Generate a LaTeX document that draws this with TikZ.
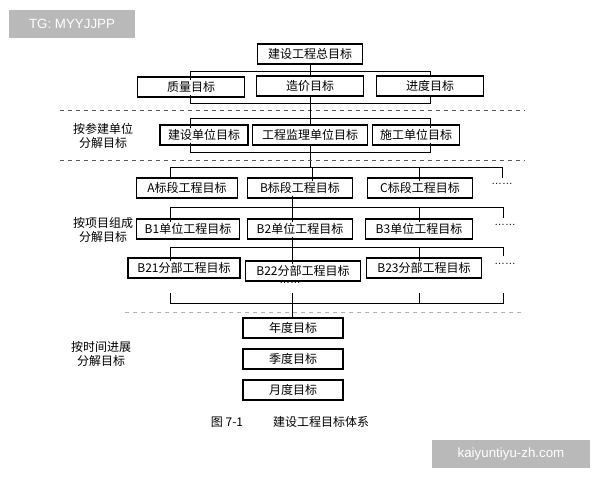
\documentclass[tikz,border=0pt]{standalone}
\usepackage{fontspec}
\setmainfont{Liberation Sans}
\newfontfamily\cjk{Noto Sans CJK SC}
\begin{document}
\begin{tikzpicture}[x=0.75pt,y=-0.75pt,
 bx/.style={draw,line width=0.8pt,minimum height=15pt,inner sep=1pt,font=\cjk\fontsize{9}{10}\selectfont},
 lb/.style={font=\cjk\fontsize{9}{11}\selectfont,align=center},
 ln/.style={line width=0.7pt},
 dsh/.style={dashed,line width=0.7pt,gray!70!black},
 dots/.style={font=\fontsize{8}{8}\selectfont}]
\useasboundingbox (0,0) rectangle (600,480);
% watermarks
\node[fill=gray!55,text=white,minimum width=94pt,minimum height=21pt,font=\fontsize{10}{10}\selectfont] (wm1) at (72,24) {TG: MYYJJPP};
\node[fill=gray!55,text=white,minimum width=118pt,minimum height=21pt,font=\fontsize{10}{10}\selectfont] (wm2) at (511,454) {kaiyuntiyu-zh.com};
% row 1/2
\node[bx,minimum width=79pt] (top) at (310,54) {建设工程总目标};
\node[bx,minimum width=80pt] (q) at (191,87) {质量目标};
\node[bx,minimum width=80pt] (c) at (310,86) {造价目标};
\node[bx,minimum width=80pt] (p) at (430,86) {进度目标};
\coordinate (t1) at (310,71);
\draw[ln] (top) -- (t1); \draw[ln] (190,71) -- (430,71);
\draw[ln] (190,71) -- (190,79.5); \draw[ln] (310,71)--(c.north); \draw[ln] (430,71)--(p.north);
\draw[ln] (190,94.5)--(190,103)--(430,103)--(p.south); \draw[ln] (c.south)--(310,103);
\draw[dsh] (60,110)--(525,110);
% row 3
\node[bx,minimum width=66pt] (u1) at (204,135) {建设单位目标};
\node[bx,minimum width=86pt] (u2) at (310,135) {工程监理单位目标};
\node[bx,minimum width=65pt] (u3) at (416,135) {施工单位目标};
\node[lb] (l1) at (103,136) {按参建单位\\分解目标};
\draw[ln] (310,103)--(310,118); \draw[ln] (190,118)--(430,118);
\draw[ln] (190,118)--(190,127.5); \draw[ln] (u2.north)--(310,118); \draw[ln] (430,118)--(430,127.5);
\draw[ln] (190,142.5)--(190,152)--(430,152)--(430,142.5); \draw[ln] (u2.south)--(310,167);
\draw[dsh] (60,160)--(525,160);
% row 4
\node[bx,minimum width=76pt] (a) at (187,188) {A标段工程目标};
\node[bx,minimum width=79pt] (b) at (300,188) {B标段工程目标};
\node[bx,minimum width=79pt] (cc) at (420,188) {C标段工程目标};
\node[dots] (d4) at (502,184) {……};
\draw[ln] (170,167)--(502,167)--(502,178);
\draw[ln] (170,167)--(a.north-|170,0); \draw[ln] (312,167)--(312,180.5); \draw[ln] (419,167)--(419,180.5);
% row 5
\node[bx,minimum width=77pt] (b1) at (188,229) {B1单位工程目标};
\node[bx,minimum width=79pt] (b2) at (300,229) {B2单位工程目标};
\node[bx,minimum width=80pt] (b3) at (419,229) {B3单位工程目标};
\node[dots] (d5) at (505,225) {……};
\node[lb] (l2) at (103,230) {按项目组成\\分解目标};
\draw[ln] (292,195.5)--(292,207); \draw[ln] (170,207)--(503,207)--(503,218);
\draw[ln] (170,207)--(170,221.5); \draw[ln] (292,207)--(292,221.5); \draw[ln] (419,207)--(419,221.5);
% row 6
\node[bx,minimum width=84pt] (b21) at (184,268) {B21分部工程目标};
\node[bx,minimum width=86pt] (b22) at (303,271) {B22分部工程目标};
\node[bx,minimum width=86pt] (b23) at (424,268) {B23分部工程目标};
\node[dots] (d6) at (505,264) {……};
\node[dots] (d7) at (290,283) {……};
\draw[ln] (292,236.5)--(292,247); \draw[ln] (170,247)--(503,247)--(503,256);
\draw[ln] (170,247)--(170,260.5); \draw[ln] (292,247)--(292,263.5); \draw[ln] (419,247)--(419,260.5);
\draw[ln] (170,293)--(170,303)--(503,303)--(503,293);
\draw[ln] (292,293)--(292,318); \draw[ln] (419,293)--(419,303);
\draw[dsh,gray!60] (125,312)--(525,312);
% row 7
\node[bx,minimum width=75pt] (y) at (293,328) {年度目标};
\node[bx,minimum width=75pt] (s) at (293,359) {季度目标};
\node[bx,minimum width=75pt] (m) at (293,390) {月度目标};
\node[lb] (l3) at (101,354) {按时间进展\\分解目标};
\node[font=\cjk\fontsize{9}{10}\selectfont] (cap) at (290,422) {图 7-1\hspace{2.5em}建设工程目标体系};
\end{tikzpicture}
\end{document}
